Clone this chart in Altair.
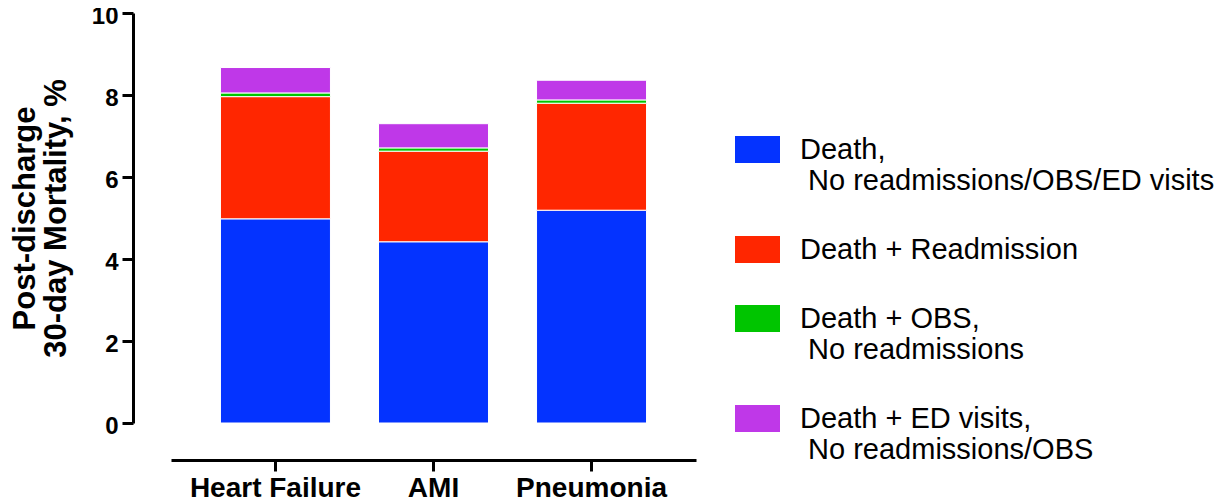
import altair as alt
import pandas as pd

conditions = ["Heart Failure", "AMI", "Pneumonia"]
categories = [
    "Death,\n\u200b\u00a0No readmissions/OBS/ED visits",
    "Death + Readmission",
    "Death + OBS,\n\u200b\u00a0No readmissions",
    "Death + ED visits,\n\u200b\u00a0No readmissions/OBS",
]
colors = ["#0433FF", "#FF2600", "#00C500", "#BF38E8"]

death_only = [4.98, 4.42, 5.19]
death_readmit = [2.98, 2.21, 2.61]
death_obs = [0.09, 0.08, 0.08]
death_ed = [0.62, 0.59, 0.48]

series = [death_only, death_readmit, death_obs, death_ed]
rows = []
for si, (cat, vals) in enumerate(zip(categories, series)):
    for ci, cond in enumerate(conditions):
        rows.append({"condition": cond, "category": cat, "order": si, "value": vals[ci]})
df = pd.DataFrame(rows)

FONT = "Liberation Sans"

chart = (
    alt.Chart(df)
    .mark_bar(stroke="white", strokeWidth=1)
    .encode(
        x=alt.X(
            "condition:N",
            sort=conditions,
            scale=alt.Scale(paddingInner=0.304, paddingOuter=0.313),
            axis=alt.Axis(
                title=None,
                labelAngle=0,
                offset=37,
                domainWidth=3,
                domainColor="black",
                tickWidth=3,
                tickColor="black",
                tickSize=11,
                labelFont=FONT,
                labelFontWeight="bold",
                labelFontSize=28,
                labelColor="black",
                labelPadding=3,
            ),
        ),
        y=alt.Y(
            "value:Q",
            stack="zero",
            scale=alt.Scale(domain=[0, 10], nice=False),
            axis=alt.Axis(
                title=["Post-discharge", "30-day Mortality, %"],
                values=[0, 2, 4, 6, 8, 10],
                offset=38,
                grid=False,
                domainWidth=3,
                domainColor="black",
                tickWidth=3,
                tickColor="black",
                tickSize=11,
                labelFont=FONT,
                labelFontWeight="bold",
                labelFontSize=24,
                labelColor="black",
                labelPadding=4,
                labelOffset=3,
                titleFont=FONT,
                titleFontWeight="bold",
                titleFontSize=31,
                titleColor="black",
                titleLineHeight=31,
                titlePadding=19,
            ),
        ),
        color=alt.Color(
            "category:N",
            sort=categories,
            scale=alt.Scale(domain=categories, range=colors),
            legend=alt.Legend(
                title=None,
                orient="none",
                legendX=564,
                legendY=114,
                padding=0,
                symbolType="M-1,-0.6H1V0.6H-1Z",
                symbolSize=2025,
                symbolStrokeWidth=0,
                symbolOpacity=1,
                labelExpr="split(datum.label, '\\n')",
                labelFont=FONT,
                labelFontSize=29,
                labelColor="black",
                labelOffset=20,
                labelLimit=600,
                labelBaseline="middle",
                rowPadding=31,
            ),
        ),
        order=alt.Order("order:Q", sort="ascending"),
    )
    .properties(
        width=525,
        height=410,
        background="white",
        autosize=alt.AutoSizeParams(type="none"),
        padding={"left": 163, "top": 5, "right": 520, "bottom": 82},
    )
    .configure_view(strokeWidth=0, stroke=None)
)

chart.save("out.html", embed_options={"renderer": "svg", "actions": False})
